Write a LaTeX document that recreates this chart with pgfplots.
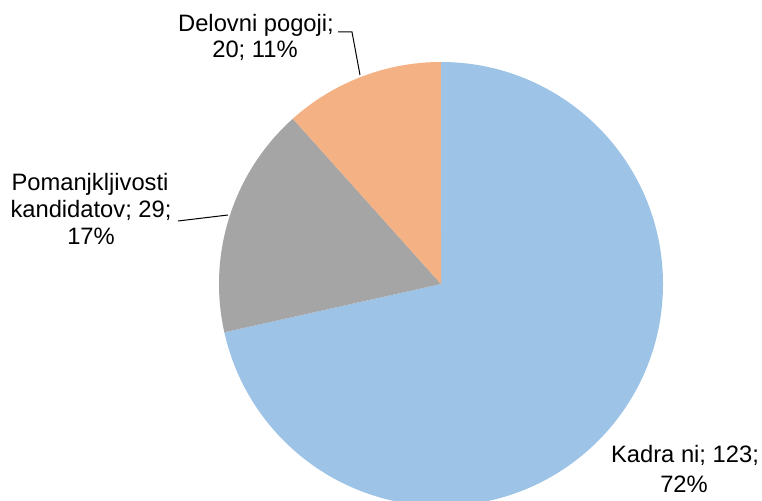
\documentclass[border=0pt]{standalone}
\usepackage{pgfplots}
\pgfplotsset{compat=1.18}
\usepackage{fontspec}
\setmainfont{Liberation Sans}
\definecolor{cblue}{HTML}{9DC3E6}
\definecolor{cgray}{HTML}{A5A5A5}
\definecolor{corange}{HTML}{F4B183}
\tikzset{lbl/.style={font=\fontsize{17.8}{20}\selectfont, inner sep=0pt, text=black, anchor=base}}
% data values
\def\vA{123}% Kadra ni
\def\vB{29}%  Pomanjkljivosti kandidatov
\def\vC{20}%  Delovni pogoji
\begin{document}
\begin{tikzpicture}
\pgfmathsetmacro{\tot}{\vA+\vB+\vC}
\pgfmathsetmacro{\aA}{90-360*(\vA/\tot)}
\pgfmathsetmacro{\aB}{\aA-360*(\vB/\tot)}
\pgfmathsetmacro{\aC}{\aB-360*(\vC/\tot)}
\def\R{166.5pt}
\begin{axis}[
  scale only axis, width=571.5pt, height=375pt,
  xmin=0, xmax=762, ymin=0, ymax=500,
  hide axis, clip=true,
]
\fill[cblue] (axis cs:441,216) -- ++(90:\R) arc[start angle=90, end angle=\aA, radius=\R] -- cycle;
\fill[cgray] (axis cs:441,216) -- ++(\aA:\R) arc[start angle=\aA, end angle=\aB, radius=\R] -- cycle;
\fill[corange] (axis cs:441,216) -- ++(\aB:\R) arc[start angle=\aB, end angle=\aC, radius=\R] -- cycle;
% leader lines
\draw[black, line width=0.75pt] (axis cs:338,468) -- (axis cs:352,468) -- (axis cs:360,425);
\draw[black, line width=0.75pt] (axis cs:178,279) -- (axis cs:228,285);
% labels
\node[lbl] at (axis cs:256,468) {Delovni pogoji;};
\node[lbl] at (axis cs:255,442) {20; 11\%};
\node[lbl] at (axis cs:90,309) {Pomanjkljivosti};
\node[lbl] at (axis cs:91,282.5) {kandidatov; 29;};
\node[lbl] at (axis cs:91,256) {17\%};
\node[lbl] at (axis cs:685,38) {Kadra ni; 123;};
\node[lbl] at (axis cs:684,8) {72\%};
\end{axis}
\pgfresetboundingbox
\useasboundingbox (current axis.south west) rectangle (current axis.north east);
\end{tikzpicture}
\end{document}
